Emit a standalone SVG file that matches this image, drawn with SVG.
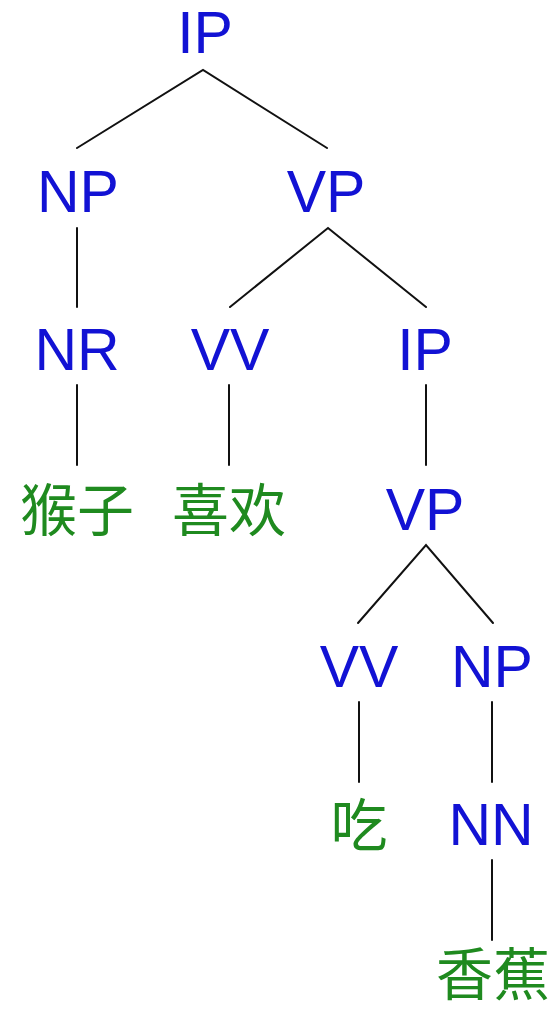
<svg xmlns="http://www.w3.org/2000/svg" width="556" height="1011" viewBox="0 0 556 1011">
<style>
.cat{font-family:"Liberation Sans",Arial,sans-serif;font-size:59px;fill:#1212d4;text-anchor:middle}
.word{font-family:"Noto Sans CJK SC","Liberation Sans",sans-serif;font-size:57px;fill:#1f8a1f;text-anchor:middle}
.edge{stroke:#111;stroke-width:2;fill:none;stroke-linecap:round}
</style>
<rect width="556" height="1011" fill="#ffffff"/>
<g id="connectors">
<polyline class="edge" points="77,148 203,70 327,148"/>
<line class="edge" x1="77" y1="228" x2="77" y2="307"/>
<polyline class="edge" points="230,307 328,228 426,307"/>
<line class="edge" x1="77" y1="385" x2="77" y2="465"/>
<line class="edge" x1="229" y1="385" x2="229" y2="465"/>
<line class="edge" x1="426" y1="385" x2="426" y2="465"/>
<polyline class="edge" points="358,623 426,545 493,623"/>
<line class="edge" x1="359" y1="702" x2="359" y2="782"/>
<line class="edge" x1="492" y1="702" x2="492" y2="782"/>
<line class="edge" x1="492" y1="860" x2="492" y2="940"/>
</g>
<g id="n-ip1"><text class="cat" x="205" y="53">IP</text></g>
<g id="n-np1"><text class="cat" x="78" y="212">NP</text></g>
<g id="n-vp1"><text class="cat" x="326" y="212">VP</text></g>
<g id="n-nr"><text class="cat" x="77" y="370">NR</text></g>
<g id="n-vv1"><text class="cat" x="230" y="370">VV</text></g>
<g id="n-ip2"><text class="cat" x="425" y="370">IP</text></g>
<g id="n-houzi"><text class="word" x="77" y="531">猴子</text></g>
<g id="n-xihuan"><text class="word" x="229" y="531">喜欢</text></g>
<g id="n-vp2"><text class="cat" x="425" y="530">VP</text></g>
<g id="n-vv2"><text class="cat" x="359" y="687">VV</text></g>
<g id="n-np2"><text class="cat" x="492" y="687">NP</text></g>
<g id="n-chi"><text class="word" x="359" y="846">吃</text></g>
<g id="n-nn"><text class="cat" x="491" y="845">NN</text></g>
<g id="n-xiangjiao"><text class="word" x="493" y="995" font-size="54">香蕉</text></g>
</svg>
